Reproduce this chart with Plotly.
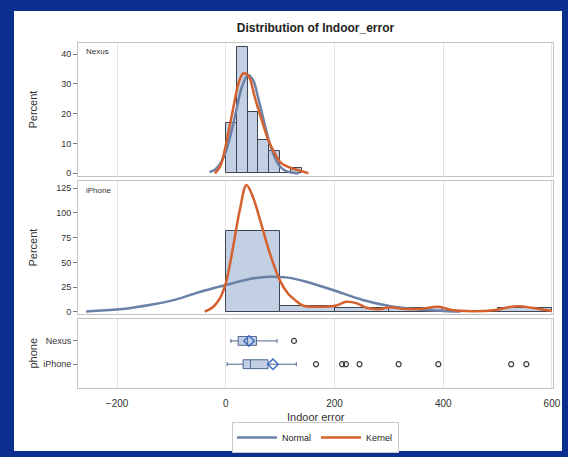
import plotly.graph_objects as go

# ---------------- data ----------------
nexus_bin_left = [0, 20, 40, 60, 80, 100, 120]
nexus_pct = [16.8, 42.5, 20.6, 11.2, 7.4, 0.0, 1.9]
nexus_bin_width = 20

iphone_bin_left = [0, 100, 200, 300, 400, 500]
iphone_pct = [81.8, 5.3, 3.4, 3.4, 0.0, 3.4]
iphone_bin_width = 100

nexus_normal_x = [-30, -20, -10, 0, 10, 20, 30, 41, 50, 60, 70, 80, 90, 100, 110, 120, 135]
nexus_normal_y = [0.4, 1.2, 3.3, 7.3, 13.8, 21.8, 29.2, 33.0, 31.3, 25.0, 17.5, 10.5, 5.3, 2.2, 0.8, 0.3, 0.0]

nexus_kernel_x = [-20, -10, -2, 5, 10.5, 17, 23, 32, 38, 44, 53, 66, 78, 90, 102, 121, 136, 152]
nexus_kernel_y = [0.0, 2.5, 7.8, 14.0, 19.0, 25.0, 30.0, 33.5, 33.3, 31.9, 25.7, 17.9, 11.2, 6.7, 3.4, 1.7, 0.9, 0.0]

iphone_normal_x = [-257, -195, -133, -91, -48, 0, 50, 81, 111, 148, 197, 252, 301, 350, 400, 432]
iphone_normal_y = [0.3, 2.4, 7.5, 12.5, 20.0, 27.0, 33.8, 35.5, 34.8, 30.4, 22.0, 11.9, 5.8, 2.4, 0.8, 0.3]

iphone_kernel_x = [-39, -23, -11, 0, 13.5, 25.7, 38, 50, 63, 81, 100, 115, 126, 143, 173, 201, 222,
                   241, 259, 284, 300, 330, 360, 391, 416, 453, 496, 520, 539, 563, 585, 600]
iphone_kernel_y = [0.0, 5.0, 13.5, 29.0, 66.0, 103.0, 128.4, 116.0, 93.0, 59.0, 31.0, 18.0, 12.5, 6.0, 5.0, 6.0, 10.0,
                   8.5, 4.0, 2.7, 4.5, 2.7, 3.0, 5.0, 1.7, 0.5, 1.7, 4.5, 5.5, 4.0, 2.0, 0.7]

phones = ["Nexus", "iPhone"]
box_q1 = [22.6, 31.8]
box_median = [40.0, 45.3]
box_q3 = [56.3, 77.6]
box_lowerfence = [9.2, 2.4]
box_upperfence = [94.2, 129.7]
box_mean = [42.8, 86.8]
nexus_outliers = [125.4]
iphone_outliers = [166, 214, 221, 246, 318, 391, 525, 553]

title_text = "Distribution of Indoor_error"
x_title = "Indoor error"

# ---------------- styles ----------------
FONT = "Liberation Sans, Arial, sans-serif"
BLUE = "#6b80a6"
ORANGE = "#d4602e"
BAR_FILL = "#c3d0e4"
BAR_LINE = "#3e4450"
FRAME = "#c4c4c4"
GRID = "#e4e4e4"
TXT = "#333333"

fig = go.Figure()

# histograms
fig.add_trace(go.Bar(
    x=[l + nexus_bin_width / 2 for l in nexus_bin_left], y=nexus_pct, width=nexus_bin_width,
    marker=dict(color=BAR_FILL, line=dict(color=BAR_LINE, width=1)),
    xaxis="x3", yaxis="y3", showlegend=False, hoverinfo="skip"))
fig.add_trace(go.Bar(
    x=[l + iphone_bin_width / 2 for l in iphone_bin_left], y=iphone_pct, width=iphone_bin_width,
    marker=dict(color=BAR_FILL, line=dict(color=BAR_LINE, width=1)),
    xaxis="x2", yaxis="y2", showlegend=False, hoverinfo="skip"))

# curves
fig.add_trace(go.Scatter(x=nexus_normal_x, y=nexus_normal_y, mode="lines", name="Normal",
                         line=dict(color=BLUE, width=2.5, shape="spline"), xaxis="x3", yaxis="y3",
                         legendgroup="n", showlegend=True))
fig.add_trace(go.Scatter(x=nexus_kernel_x, y=nexus_kernel_y, mode="lines", name="Kernel",
                         line=dict(color=ORANGE, width=2.5, shape="spline"), xaxis="x3", yaxis="y3",
                         legendgroup="k", showlegend=True))
fig.add_trace(go.Scatter(x=iphone_normal_x, y=iphone_normal_y, mode="lines", name="Normal",
                         line=dict(color=BLUE, width=2.5, shape="spline"), xaxis="x2", yaxis="y2",
                         legendgroup="n", showlegend=False))
fig.add_trace(go.Scatter(x=iphone_kernel_x, y=iphone_kernel_y, mode="lines", name="Kernel",
                         line=dict(color=ORANGE, width=2.5, shape="spline"), xaxis="x2", yaxis="y2",
                         legendgroup="k", showlegend=False))

# box plots
for i, ph in enumerate(phones):
    fig.add_trace(go.Box(
        y=[ph], q1=[box_q1[i]], median=[box_median[i]], q3=[box_q3[i]],
        lowerfence=[box_lowerfence[i]], upperfence=[box_upperfence[i]],
        orientation="h", boxpoints=False, width=0.38, whiskerwidth=0.45,
        fillcolor=BAR_FILL, line=dict(color="#4d6592", width=1),
        xaxis="x", yaxis="y", showlegend=False, hoverinfo="skip"))
fig.add_trace(go.Scatter(x=box_mean, y=phones, mode="markers",
                         marker=dict(symbol="diamond-open", size=8, color="#3f6cc0", line=dict(width=1.5)),
                         xaxis="x", yaxis="y", showlegend=False, hoverinfo="skip"))
fig.add_trace(go.Scatter(x=nexus_outliers + iphone_outliers,
                         y=["Nexus"] * len(nexus_outliers) + ["iPhone"] * len(iphone_outliers),
                         mode="markers",
                         marker=dict(symbol="circle-open", size=5, color="#3a3a3a", line=dict(width=1.2)),
                         xaxis="x", yaxis="y", showlegend=False, hoverinfo="skip"))

xcommon = dict(showgrid=True, gridcolor=GRID, gridwidth=1, dtick=200, tick0=0, zeroline=False,
               showline=True, mirror=True, linecolor=FRAME, linewidth=1)
ycommon = dict(showgrid=False, zeroline=False, showline=True, mirror=True, linecolor=FRAME, linewidth=1,
               ticks="outside", ticklen=4, tickcolor="#777", tickfont=dict(size=9, color=TXT))

# white panel on blue background
W, H = 568, 457
L, R, T, B = 78, 15, 43, 69
pw, ph_ = W - L - R, H - T - B
def px(x): return (x - L) / pw
def py(y): return (H - B - y) / ph_

fig.update_layout(
    width=W, height=H,
    margin=dict(l=L, r=R, t=T, b=B, autoexpand=False),
    paper_bgcolor="#0b2f8e", plot_bgcolor="white",
    font=dict(family=FONT, color=TXT, size=10),
    bargap=0,
    barmode="overlay",
    title=dict(text=title_text, x=0.5, xref="paper", xanchor="center", y=1 - 28 / H, yanchor="middle",
               font=dict(size=12, family=FONT, color="#222", weight="bold")),
    xaxis=dict(domain=[0, 1], anchor="y", range=[-272, 602], tickfont=dict(size=10, color=TXT),
               ticks="outside", ticklen=6, tickcolor="rgba(0,0,0,0)", **xcommon),
    xaxis2=dict(domain=[0, 1], anchor="y2", matches="x", showticklabels=False, **xcommon),
    xaxis3=dict(domain=[0, 1], anchor="y3", matches="x", showticklabels=False, **xcommon),
    yaxis=dict(domain=[0, 0.2], anchor="x", type="category", categoryorder="array",
               categoryarray=["iPhone", "Nexus"], range=[-1.02, 1.94], **ycommon),
    yaxis2=dict(domain=[0.2145, 0.6], anchor="x2", range=[-2.3, 132.4],
                tickvals=[0, 25, 50, 75, 100, 125], **ycommon),
    yaxis3=dict(domain=[0.6145, 1.0], anchor="x3", range=[-0.9, 43.7],
                tickvals=[0, 10, 20, 30, 40], **ycommon),
    legend=dict(orientation="h", x=0.5, xanchor="center", y=py(437.5), yanchor="middle",
                bgcolor="white", bordercolor="#c8c8c8", borderwidth=1,
                font=dict(size=9, color="#222"), itemwidth=40, tracegroupgap=0),
    shapes=[dict(type="rect", xref="paper", yref="paper", x0=px(14), x1=px(562), y0=py(451), y1=py(11),
                 fillcolor="white", line=dict(width=0), layer="below")],
    annotations=[
        dict(text="Percent", xref="paper", yref="paper", x=px(32), y=py(109.5), textangle=-90,
             showarrow=False, font=dict(size=11, color=TXT), xanchor="center", yanchor="middle"),
        dict(text="Percent", xref="paper", yref="paper", x=px(32), y=py(247.5), textangle=-90,
             showarrow=False, font=dict(size=11, color=TXT), xanchor="center", yanchor="middle"),
        dict(text="phone", xref="paper", yref="paper", x=px(32), y=py(353.5), textangle=-90,
             showarrow=False, font=dict(size=11, color=TXT), xanchor="center", yanchor="middle"),
        dict(text=x_title, xref="paper", yref="paper", x=0.5, y=py(416.5), showarrow=False,
             font=dict(size=11, color=TXT), xanchor="center", yanchor="middle"),
        dict(text="Nexus", xref="paper", yref="paper", x=px(84), y=py(51), showarrow=False,
             font=dict(size=8, color=TXT), xanchor="left", yanchor="middle"),
        dict(text="iPhone", xref="paper", yref="paper", x=px(84), y=py(190), showarrow=False,
             font=dict(size=8, color=TXT), xanchor="left", yanchor="middle"),
    ],
)

fig.write_html("out.html")
